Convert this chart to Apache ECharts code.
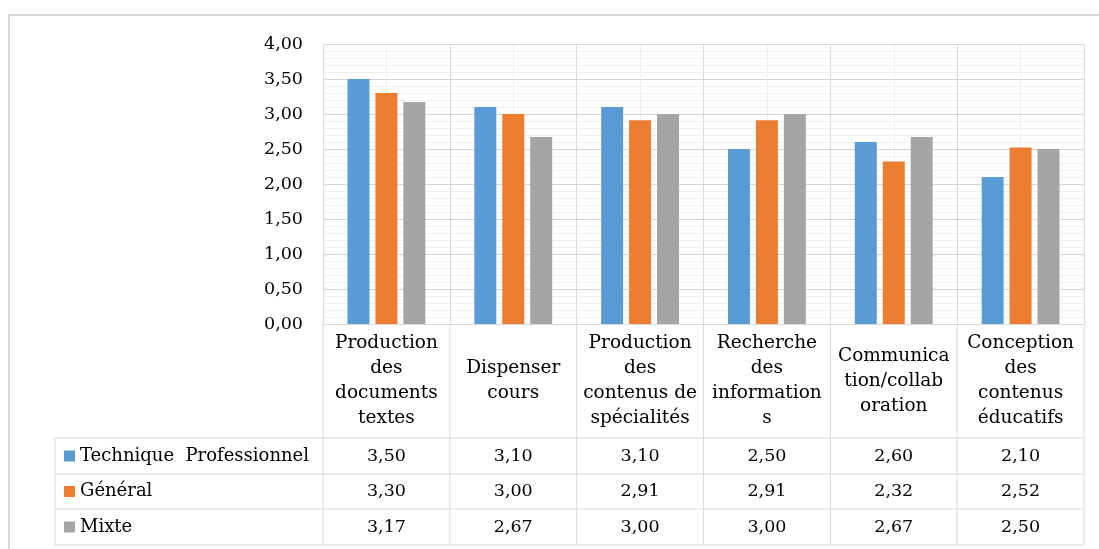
<!DOCTYPE html>
<html>
<head>
<meta charset="utf-8">
<script src="https://cdn.jsdelivr.net/npm/echarts@6/dist/echarts.min.js"></script>
<style>
html, body { margin: 0; padding: 0; background: #fff; }
#chart { width: 1099px; height: 549px; }
</style>
</head>
<body>
<div id="chart"></div>
<script>
// categories as they are wrapped in the table header cells
const categories = [
    'Production\ndes\ndocuments\ntextes',
    'Dispenser\ncours',
    'Production\ndes\ncontenus de\nspécialités',
    'Recherche\ndes\ninformation\ns',
    'Communica\ntion/collab\noration',
    'Conception\ndes\ncontenus\néducatifs',
];
const seriesNames = ['Technique  Professionnel', 'Général', 'Mixte'];
const technique = [3.50, 3.10, 3.10, 2.50, 2.60, 2.10];
const general = [3.30, 3.00, 2.91, 2.91, 2.32, 2.52];
const mixte = [3.17, 2.67, 3.00, 3.00, 2.67, 2.50];
const colors = ['#5b9bd5', '#ed7d31', '#a5a5a5'];

const FONT = "'DejaVu Serif', serif";
const fmt = (v) => v.toFixed(2).replace('.', ',');

const chartDom = document.getElementById('chart');
const myChart = echarts.init(chartDom, null, { renderer: 'canvas' });

const grid = { left: 323, top: 44, width: 761, height: 280 };
const rowLines = [438, 474, 509, 545]; // table row borders
const tableLeft = 55;

const values = [technique, general, mixte];

const option = {
    animation: false,
    textStyle: { fontFamily: FONT },
    grid: grid,
    xAxis: [
        {
            type: 'category',
            data: categories,
            z: 2,
            axisTick: { show: false },
            axisLine: { lineStyle: { color: '#d9d9d9', width: 1 } },
            splitLine: { show: true, lineStyle: { color: '#d9d9d9', width: 1 } },
            axisLabel: {
                interval: 0,
                margin: 57,
                verticalAlign: 'middle',
                lineHeight: 25,
                fontSize: 18.5,
                color: '#000',
                fontFamily: FONT,
            },
        },
        {
            // light lines through category centres
            type: 'value',
            min: 0,
            max: 12,
            interval: 1,
            z: 0,
            show: true,
            axisLine: { show: false },
            axisTick: { show: false },
            axisLabel: { show: false },
            splitLine: { show: true, lineStyle: { color: '#efefef', width: 1 } },
        },
    ],
    yAxis: {
        type: 'value',
        min: 0,
        max: 4,
        interval: 0.5,
        z: 1,
        axisLine: { show: true, lineStyle: { color: '#d9d9d9' } },
        axisTick: { show: false },
        splitLine: { lineStyle: { color: '#d6d6d6', width: 1 } },
        minorTick: { show: false, splitNumber: 5 },
        minorSplitLine: { show: true, lineStyle: { color: '#efefef', width: 1 } },
        axisLabel: {
            margin: 20,
            fontSize: 17.5,
            color: '#000',
            fontFamily: FONT,
            formatter: (v) => fmt(v),
        },
    },
    series: values.map((data, i) => ({
        name: seriesNames[i],
        type: 'bar',
        data: data,
        barWidth: 22,
        barGap: '27%',
        z: 3,
        itemStyle: { color: colors[i] },
    })),
};
myChart.setOption(option);

// data table underneath the plot
const buildTable = () => {
    const n = categories.length;
    const step = grid.width / n;
    const elements = [];
    const line = (x1, y1, x2, y2) => ({
        type: 'line',
        shape: { x1, y1, x2, y2 },
        style: { stroke: '#d9d9d9', lineWidth: 1 },
        silent: true,
    });
    // outer frame
    elements.push({
        type: 'rect',
        shape: { x: 9, y: 15, width: 1200, height: 700 },
        style: { fill: null, stroke: '#d9d9d9', lineWidth: 2 },
        silent: true,
    });
    const bottom = grid.top + grid.height;
    for (let i = 0; i <= n; i++) {
        const x = grid.left + i * step;
        elements.push(line(x, bottom, x, rowLines[rowLines.length - 1]));
    }
    elements.push(line(tableLeft, rowLines[0], tableLeft, rowLines[rowLines.length - 1]));
    rowLines.forEach((y) => elements.push(line(tableLeft, y, grid.left + grid.width, y)));

    for (let r = 0; r < values.length; r++) {
        const yc = (rowLines[r] + rowLines[r + 1]) / 2;
        elements.push({
            type: 'rect',
            shape: { x: 64, y: yc - 5.5, width: 11, height: 11 },
            style: { fill: colors[r] },
            silent: true,
        });
        elements.push({
            type: 'text',
            style: {
                x: 80, y: yc, text: seriesNames[r],
                font: '18px ' + FONT, fill: '#000',
                align: 'left', verticalAlign: 'middle',
            },
            silent: true,
        });
        values[r].forEach((v, c) => {
            const xc = myChart.convertToPixel({ xAxisIndex: 0 }, c);
            elements.push({
                type: 'text',
                style: {
                    x: xc, y: yc, text: fmt(v),
                    font: '17.5px ' + FONT, fill: '#000',
                    align: 'center', verticalAlign: 'middle',
                },
                silent: true,
            });
        });
    }
    myChart.setOption({ graphic: { elements } });
};
buildTable();
</script>
</body>
</html>
